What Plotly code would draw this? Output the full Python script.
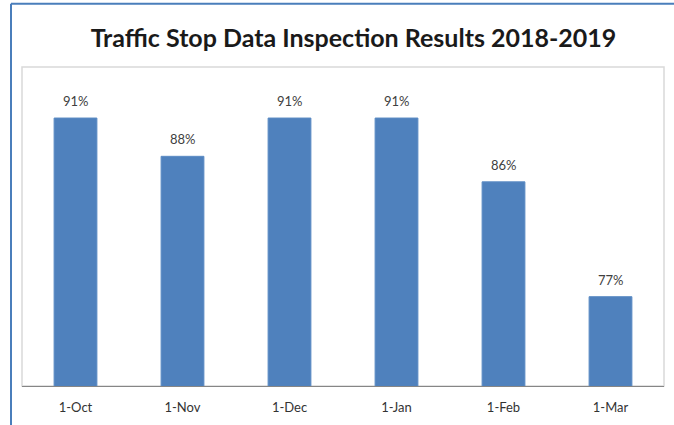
import plotly.graph_objects as go

categories = ["1-Oct", "1-Nov", "1-Dec", "1-Jan", "1-Feb", "1-Mar"]
values = [91, 88, 91, 91, 86, 77]
labels = ["91%", "88%", "91%", "91%", "86%", "77%"]

W, H = 674, 425
ml, mr, mt, mb = 22, 10, 67, 35
pw, ph = W - ml - mr, H - mt - mb
FONT = "Lato, Open Sans, sans-serif"

fig = go.Figure(go.Bar(
    x=categories, y=values,
    marker=dict(color="#4f81bd", line=dict(color="#5b8bc4", width=1)),
    hoverinfo="x+y",
))

annotations = [
    dict(x=c, y=v, text=t, showarrow=False, yshift=17, yanchor="middle",
         font=dict(family=FONT, size=13, color="#404040"))
    for c, v, t in zip(categories, values, labels)
]

fig.update_layout(
    width=W, height=H,
    margin=dict(l=ml, r=mr, t=mt, b=mb),
    paper_bgcolor="white", plot_bgcolor="white",
    bargap=0.6,
    showlegend=False,
    annotations=annotations,
    title=dict(text="<b>Traffic Stop Data Inspection Results 2018-2019</b>",
               xref="container", x=353.5 / W, xanchor="center",
               y=1 - 38 / H, yanchor="middle",
               font=dict(family=FONT, size=25, color="#1a1a1a")),
    xaxis=dict(showline=True, linecolor="#868686", linewidth=1, ticks="",
               tickfont=dict(family=FONT, size=13, color="#333333"),
               ticklabelstandoff=9,
               showgrid=False, zeroline=False),
    yaxis=dict(range=[70, 95], showticklabels=False, showgrid=False, zeroline=False,
               showline=False, ticks=""),
    shapes=[
        dict(type="rect", xref="paper", yref="paper", x0=0, x1=1, y0=0, y1=1,
             line=dict(color="#d9d9d9", width=1.5), layer="below"),
        dict(type="line", xref="paper", yref="paper",
             x0=(11 - ml) / pw, x1=(11 - ml) / pw, y0=-(H - mt) / ph, y1=1 + (mt - 3) / ph,
             line=dict(color="#4a7ebb", width=2)),
        dict(type="line", xref="paper", yref="paper",
             x0=(11 - ml) / pw, x1=1 + (mr + 5) / pw, y0=1 + (mt - 3) / ph, y1=1 + (mt - 3) / ph,
             line=dict(color="#4a7ebb", width=2)),
    ],
)

fig.write_html("out.html", config={"displayModeBar": False},
               post_script="document.body.style.margin='0';document.body.style.overflow='hidden';")
